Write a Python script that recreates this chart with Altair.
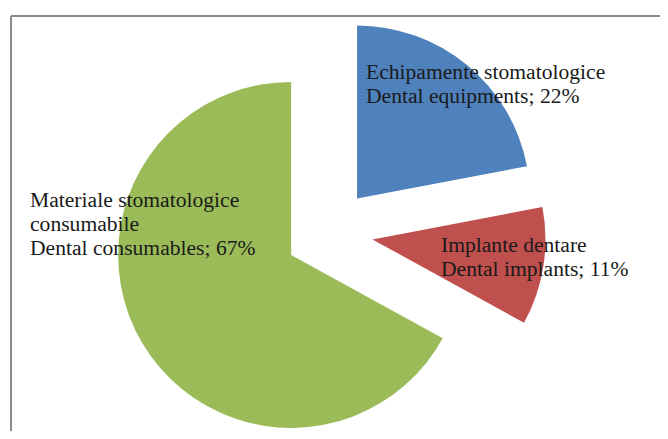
import math
import altair as alt
import pandas as pd

# ---- data ----
names_ro = ["Echipamente stomatologice", "Implante dentare", "Materiale stomatologice\nconsumabile"]
names_en = ["Dental equipments", "Dental implants", "Dental consumables"]
shares = [22, 11, 67]

# ---- style / layout ----
colors = ["#4F81BD", "#C0504D", "#9BBB59"]
RADIUS = 173
EXPLODE = 44
W, H = 652, 423
# label anchor offsets from pie centre (data units, y up), as placed by the original
label_dx = [37, 112, -299]
label_dy = [153.5, -19.5, 25.5]

labels = [f"{r}\n{e}; {s}%" for r, e, s in zip(names_ro, names_en, shares)]
df = pd.DataFrame({
    "category": names_en,
    "share": shares,
    "order": list(range(len(shares))),
    "label": labels,
    "lx": label_dx,
    "ly": label_dy,
})

xscale = alt.Scale(domain=[-321, W - 321], nice=False, zero=False)
yscale = alt.Scale(domain=[-(H - 224.5), 224.5], nice=False, zero=False)

base = alt.Chart(df).transform_window(
    cum="sum(share)", sort=[alt.SortField("order")], frame=[None, 0]
).transform_calculate(
    start="datum.cum - datum.share",
    end="datum.cum",
    mid="(datum.cum - datum.share/2) / 100 * 2 * PI",
).transform_calculate(
    cx=f"{EXPLODE} * sin(datum.mid)",
    cy=f"{EXPLODE} * cos(datum.mid)",
)

arcs = base.mark_arc(radius=RADIUS, stroke=None).encode(
    x=alt.X("cx:Q", scale=xscale, axis=None),
    y=alt.Y("cy:Q", scale=yscale, axis=None),
    theta=alt.Theta("start:Q", scale=alt.Scale(domain=[0, 100], range=[0, 2 * math.pi]), stack=None),
    theta2=alt.Theta2("end:Q"),
    color=alt.Color("category:N", scale=alt.Scale(domain=names_en, range=colors), legend=None),
)

text = alt.Chart(df).mark_text(
    align="left", baseline="alphabetic", lineBreak="\n", lineHeight=24,
    font="Liberation Serif", fontSize=21.6, color="#1a1a1a",
).encode(
    x=alt.X("lx:Q", scale=xscale, axis=None),
    y=alt.Y("ly:Q", scale=yscale, axis=None),
    text="label:N",
)

frame_data = alt.Data(values=[{"k": 1}])
left_rule = alt.Chart(frame_data).mark_rule(color="#8a8a8a", strokeWidth=2).encode(
    x=alt.value(3), y=alt.value(8), y2=alt.value(H)
)
top_rule = alt.Chart(frame_data).mark_rule(color="#8a8a8a", strokeWidth=2).encode(
    y=alt.value(8), x=alt.value(3), x2=alt.value(W)
)

chart = alt.layer(arcs, text, left_rule, top_rule).properties(
    width=W, height=H, autosize=alt.AutoSizeParams(type="none"), padding=0,
    background="white",
).configure_view(stroke=None)

chart.save("out.html", embed_options={"renderer": "svg", "actions": False})
